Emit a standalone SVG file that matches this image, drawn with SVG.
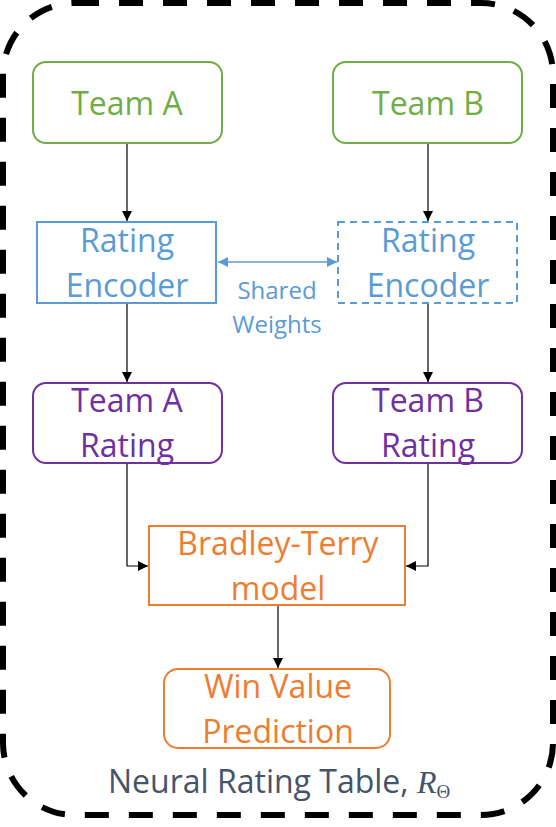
<svg xmlns="http://www.w3.org/2000/svg" width="556" height="827" viewBox="0 0 556 827">
<defs>
<style>
.t{font-family:"Open Sans","Noto Sans","Liberation Sans",sans-serif;font-size:32px;text-anchor:middle}
.g{fill:#70AD47}.b{fill:#5B9BD5}.p{fill:#7030A0}.o{fill:#ED7D31}
.box{fill:#fff;stroke-width:2}
.c{fill:none;stroke:#000;stroke-width:1.2}
</style>
<marker id="ah" viewBox="0 0 10 10" refX="10" refY="5" markerWidth="10" markerHeight="10" markerUnits="userSpaceOnUse" orient="auto">
<path d="M0,0 L10,5 L0,10 z" fill="#000"/>
</marker>
<marker id="bh" viewBox="0 0 10 10" refX="10" refY="5" markerWidth="10" markerHeight="10" markerUnits="userSpaceOnUse" orient="auto-start-reverse">
<path d="M0,0 L10,5 L0,10 z" fill="#5B9BD5"/>
</marker>
</defs>
<rect width="556" height="827" fill="#fff"/>
<rect id="frame" x="3" y="3" width="550" height="812" rx="72" fill="none" stroke="#000" stroke-width="6" stroke-dasharray="24 20"/>
<g id="connectors">
<line class="c" x1="127" y1="143" x2="127" y2="221" marker-end="url(#ah)"/>
<line class="c" x1="428" y1="143" x2="428" y2="221" marker-end="url(#ah)"/>
<line class="c" x1="127" y1="303" x2="127" y2="382" marker-end="url(#ah)"/>
<line class="c" x1="428" y1="303" x2="428" y2="382" marker-end="url(#ah)"/>
<polyline class="c" points="127,463 127,566 148,566" marker-end="url(#ah)"/>
<polyline class="c" points="428,463 428,566 406,566" marker-end="url(#ah)"/>
<line class="c" x1="278" y1="605" x2="278" y2="668" marker-end="url(#ah)"/>
<line x1="218" y1="262" x2="337" y2="262" stroke="#5B9BD5" stroke-width="1.5" marker-start="url(#bh)" marker-end="url(#bh)"/>
<text class="t b" x="277" y="299" style="font-size:24px">Shared</text>
<text class="t b" x="277" y="333" style="font-size:24px">Weights</text>
</g>
<g id="teamA">
<rect class="box" x="33" y="62" width="189" height="81" rx="13" stroke="#70AD47"/>
<text class="t g" x="127" y="115">Team A</text>
</g>
<g id="teamB">
<rect class="box" x="333" y="62" width="189" height="81" rx="13" stroke="#70AD47"/>
<text class="t g" x="428" y="115">Team B</text>
</g>
<g id="encoderA">
<rect class="box" x="37" y="222" width="179" height="81" stroke="#5B9BD5"/>
<text class="t b" x="127" y="252">Rating</text>
<text class="t b" x="127" y="297">Encoder</text>
</g>
<g id="encoderB">
<rect class="box" x="338" y="222" width="179" height="81" stroke="#5B9BD5" stroke-dasharray="7 5"/>
<text class="t b" x="428" y="252">Rating</text>
<text class="t b" x="428" y="297">Encoder</text>
</g>
<g id="ratingA">
<rect class="box" x="33" y="383" width="189" height="80" rx="13" stroke="#7030A0"/>
<text class="t p" x="127" y="412">Team A</text>
<text class="t p" x="127" y="457">Rating</text>
</g>
<g id="ratingB">
<rect class="box" x="333" y="383" width="189" height="80" rx="13" stroke="#7030A0"/>
<text class="t p" x="428" y="412">Team B</text>
<text class="t p" x="428" y="457">Rating</text>
</g>
<g id="bt">
<rect class="box" x="149" y="526" width="256" height="79" stroke="#ED7D31"/>
<text class="t o" x="278" y="555">Bradley-Terry</text>
<text class="t o" x="278" y="600">model</text>
</g>
<g id="win">
<rect class="box" x="164" y="669" width="226" height="79" rx="14" stroke="#ED7D31"/>
<text class="t o" x="278" y="698">Win Value</text>
<text class="t o" x="278" y="743">Prediction</text>
</g>
<g id="label">
<text x="108" y="793" style="font-family:'Open Sans','Noto Sans','Liberation Sans',sans-serif;font-size:32px;fill:#44546A">Neural Rating Table, <tspan style="font-family:'Liberation Serif',serif;font-style:italic">R</tspan><tspan dy="5" style="font-family:'Liberation Serif',serif;font-size:19px">Θ</tspan></text>
</g>
</svg>
